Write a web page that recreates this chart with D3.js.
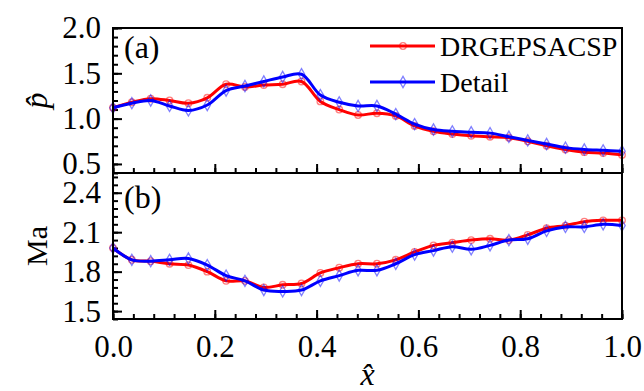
<!DOCTYPE html>
<html><head><meta charset="utf-8">
<script src="https://cdn.jsdelivr.net/npm/d3@7"></script>
<style>
html,body{margin:0;padding:0;background:#fff;}
svg{display:block;}
svg text{font-family:"Liberation Serif","Times New Roman",serif;}
</style></head>
<body>
<svg id="chart" width="644" height="391"></svg>
<script>
// ---- data ----
const xValues = d3.range(28).map(k => k / 27);
const seriesNames = ["DRGEPSACSP", "Detail"];
const pRed  = [1.12,1.18,1.22,1.20,1.17,1.23,1.38,1.35,1.37,1.38,1.41,1.19,1.10,1.04,1.06,1.03,0.92,0.86,0.83,0.81,0.80,0.79,0.75,0.70,0.66,0.63,0.62,0.60];
const pBlue = [1.12,1.17,1.20,1.14,1.09,1.15,1.31,1.36,1.41,1.46,1.49,1.26,1.18,1.14,1.14,1.05,0.94,0.88,0.86,0.85,0.84,0.80,0.76,0.72,0.68,0.66,0.65,0.64];
const maRed  = [1.98,1.89,1.88,1.86,1.85,1.80,1.73,1.73,1.68,1.70,1.71,1.79,1.83,1.86,1.86,1.89,1.95,2.00,2.02,2.04,2.05,2.04,2.08,2.13,2.15,2.18,2.19,2.19];
const maBlue = [1.98,1.89,1.88,1.89,1.90,1.85,1.77,1.73,1.66,1.65,1.66,1.73,1.77,1.81,1.81,1.86,1.93,1.96,1.99,1.97,2.00,2.04,2.05,2.11,2.14,2.14,2.16,2.15];
const xTicks = [0.0,0.2,0.4,0.6,0.8,1.0];
const pTicks = [0.5,1.0,1.5,2.0];
const maTicks = [1.5,1.8,2.1,2.4];
const colors = ["#ff0000","#0000ff"];

// ---- layout ----
const L = 113, R = 622, T = 28, M = 173, B = 319;
const FONT = "Liberation Serif";
const svg = d3.select("#chart");
const x = d3.scaleLinear([0,1],[L,R]);
const yP = d3.scaleLinear([0.4,2.0],[M,T]);
const yM = d3.scaleLinear([1.44,2.55],[B,M]);

function frame(y0,y1){
  svg.append("rect").attr("x",L).attr("y",y0).attr("width",R-L).attr("height",y1-y0)
    .attr("fill","none").attr("stroke","#000").attr("stroke-width",2);
}
function styleAxis(g){
  g.attr("font-family",FONT).attr("font-size",32);
  g.select(".domain").remove();
  g.selectAll("line").attr("stroke","#000").attr("stroke-width",2);
  g.selectAll("text").attr("fill","#000").attr("font-family",FONT).attr("font-size",31);
}

// x minor/major ticks on both panels
[M,B].forEach((yy,i)=>{
  svg.append("g").attr("transform",`translate(0,${yy})`)
    .call(d3.axisBottom(x).tickValues(d3.range(0,1.0001,0.04)).tickSize(-5).tickFormat(""))
    .call(styleAxis);
  svg.append("g").attr("transform",`translate(0,${yy})`)
    .call(d3.axisBottom(x).tickValues(xTicks).tickSize(-9).tickPadding(16).tickFormat(i===1?d3.format(".1f"):""))
    .call(styleAxis);
});
// y ticks
function yAxis(scale, minor, major){
  svg.append("g").attr("transform",`translate(${L},0)`)
    .call(d3.axisLeft(scale).tickValues(minor).tickSize(-5).tickFormat(""))
    .call(styleAxis);
  svg.append("g").attr("transform",`translate(${L},0)`)
    .call(d3.axisLeft(scale).tickValues(major).tickSize(-9).tickPadding(12).tickFormat(d3.format(".1f")))
    .call(styleAxis);
}
yAxis(yP, d3.range(0.4,2.0001,0.1).map(v=>+v.toFixed(2)), pTicks);
yAxis(yM, d3.range(1.44,2.5501,0.06).map(v=>+v.toFixed(2)), maTicks);

// series
function drawSeries(yScale, data, color, shape){
  const pts = data.map((v,i)=>[x(xValues[i]), yScale(v)]);
  svg.append("path").attr("d", d3.line().curve(d3.curveCatmullRom.alpha(0.5))(pts))
    .attr("fill","none").attr("stroke",color).attr("stroke-width",3);
  const sym = d3.symbol().type(shape).size(shape===d3.symbolDiamond?36:34);
  svg.append("g").selectAll("path").data(pts).join("path")
    .attr("transform",d=>`translate(${d[0]},${d[1]})`).attr("d",sym)
    .attr("fill","none").attr("stroke",color).attr("stroke-opacity",0.5).attr("stroke-width",1.3);
}
drawSeries(yP, pRed, colors[0], d3.symbolCircle);
drawSeries(yP, pBlue, colors[1], d3.symbolDiamond);
drawSeries(yM, maRed, colors[0], d3.symbolCircle);
drawSeries(yM, maBlue, colors[1], d3.symbolDiamond);

frame(T,M); frame(M,B);

// panel labels
svg.append("text").attr("x",124).attr("y",58).attr("font-size",32).text("(a)");
svg.append("text").attr("x",124).attr("y",208).attr("font-size",32).text("(b)");

// legend
seriesNames.forEach((n,i)=>{
  const yy = 46 + i*36;
  svg.append("line").attr("x1",370).attr("x2",435).attr("y1",yy).attr("y2",yy)
    .attr("stroke",colors[i]).attr("stroke-width",3);
  svg.append("path").attr("transform",`translate(403,${yy})`)
    .attr("d",d3.symbol().type(i===0?d3.symbolCircle:d3.symbolDiamond).size(i===0?34:36))
    .attr("fill","none").attr("stroke",colors[i]).attr("stroke-opacity",0.5).attr("stroke-width",1.3);
  svg.append("text").attr("x",440).attr("y",yy+10).attr("font-size",28).text(n);
});

// axis titles
svg.append("text").attr("transform",`translate(47,${(T+M)/2}) rotate(-90)`)
  .attr("text-anchor","middle").attr("font-size",32).attr("font-style","italic").text("p\u0302");
svg.append("text").attr("transform",`translate(47,${(M+B)/2}) rotate(-90)`)
  .attr("text-anchor","middle").attr("font-size",30).text("Ma");
svg.append("text").attr("x",(L+R)/2).attr("y",385)
  .attr("text-anchor","middle").attr("font-size",32).attr("font-style","italic").text("x\u0302");
</script>
</body></html>
